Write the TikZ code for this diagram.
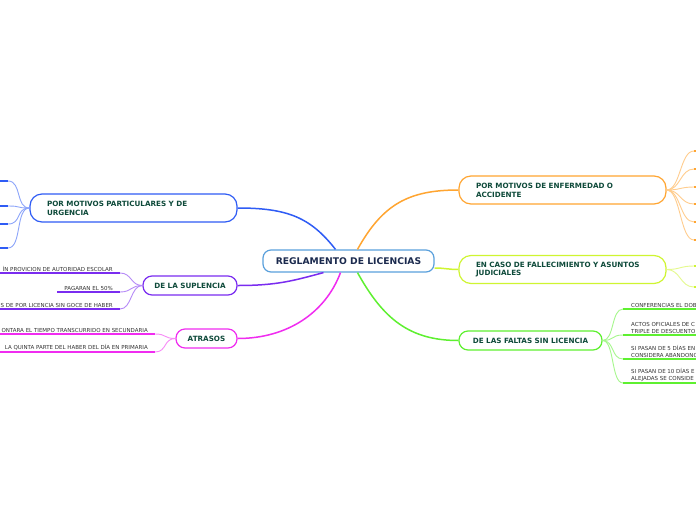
\documentclass[tikz,border=0pt]{standalone}
\usepackage{fontspec}
\setmainfont{DejaVu Sans}

\definecolor{rootline}{HTML}{5AA0DC}
\definecolor{roottext}{HTML}{1B2A4E}
\definecolor{topictext}{HTML}{0E4A3A}
\definecolor{leaftext}{HTML}{333333}
\definecolor{blueline}{HTML}{2F5CF5}
\definecolor{orangeline}{HTML}{FFA531}
\definecolor{yellowline}{HTML}{CFF531}
\definecolor{greenline}{HTML}{5EF030}
\definecolor{purpleline}{HTML}{7A2CF0}
\definecolor{magentaline}{HTML}{F02CF0}

\begin{document}
\begin{tikzpicture}[
    x=1pt, y=-1pt,
    root/.style={
        draw=rootline,
        line width=1.2pt,
        rounded corners=8pt,
        fill=white,
        minimum width=171pt,
        minimum height=22pt,
        text=roottext,
        font=\bfseries\fontsize{9.2}{11}\selectfont
    },
    topic/.style={
        draw=#1,
        line width=1.2pt,
        rounded corners=9pt,
        fill=white,
        minimum height=19pt,
        text=topictext,
        font=\bfseries\fontsize{7.2}{8.8}\selectfont
    },
    widetopic/.style={
        topic=#1,
        minimum height=28pt,
        rounded corners=12pt,
        text width=173pt,
        inner xsep=17pt,
        align=left
    },
    leaf/.style={
        inner xsep=7pt,
        inner ysep=1.5pt,
        text=leaftext,
        font=\fontsize{5.5}{7}\selectfont
    },
    uline/.style={draw=#1, line width=2pt},
    twig/.style={draw=#1!55!white, line width=0.9pt},
    branch/.style={draw=#1, line width=1.5pt}
]

\useasboundingbox (0,0) rectangle (696,520);
\clip (0,0) rectangle (696,520);
\fill[white] (0,0) rectangle (696,520);

% center
\node[root] (reg) at (348.5,261) {REGLAMENTO DE LICENCIAS};

% main topics
\node[widetopic=blueline] (pmp) at (133.5,208) {POR MOTIVOS PARTICULARES Y DE\\URGENCIA};
\node[widetopic=orangeline] (enf) at (562.5,190) {POR MOTIVOS DE ENFERMEDAD O\\ACCIDENTE};
\node[widetopic=yellowline] (fall) at (562.5,269.5) {EN CASO DE FALLECIMIENTO Y ASUNTOS\\JUDICIALES};
\node[topic=greenline, minimum width=143pt] (fal) at (530.5,340.5) {DE LAS FALTAS SIN LICENCIA};
\node[topic=purpleline, minimum width=94pt] (sup) at (190,285.5) {DE LA SUPLENCIA};
\node[topic=magentaline, minimum width=61pt] (atr) at (206.5,338.5) {ATRASOS};

% branches from the center
\draw[branch=blueline] ([xshift=-13pt]reg.north) .. controls +(-25,-32) and +(50,0) .. (pmp.east);
\draw[branch=orangeline] ([xshift=9pt]reg.north) .. controls +(25,-45) and +(-50,0) .. (enf.west);
\draw[branch=yellowline] ([yshift=-7pt]reg.east) .. controls +(10,0) and +(-10,0) .. (fall.west);
\draw[branch=greenline] ([xshift=9pt]reg.south) .. controls +(25,45) and +(-50,0) .. (fal.west);
\draw[branch=purpleline] ([xshift=-25pt]reg.south) .. controls +(-30,8) and +(40,0) .. (sup.east);
\draw[branch=magentaline] ([xshift=-8pt]reg.south) .. controls +(-15,40) and +(50,0) .. (atr.east);

% leaves cut at the left edge
\coordinate (pmp1) at (8,181);
\coordinate (pmp2) at (8,206);
\coordinate (pmp3) at (8,224);
\coordinate (pmp4) at (8,248);
\foreach \n in {pmp1,pmp2,pmp3,pmp4} {
    \draw[twig=blueline] (pmp.west) .. controls +(-14,0) and +(14,0) .. (\n);
    \draw[uline=blueline] (\n) -- ++(-10,0);
}

% leaves cut at the right edge
\coordinate (enf1) at (694,151);
\coordinate (enf2) at (694,169);
\coordinate (enf3) at (694,187);
\coordinate (enf4) at (694,204);
\coordinate (enf5) at (694,222);
\coordinate (enf6) at (694,240);
\foreach \n in {enf1,enf2,enf3,enf4,enf5,enf6} {
    \draw[twig=orangeline] (enf.east) .. controls +(14,0) and +(-14,0) .. (\n);
    \draw[uline=orangeline] (\n) -- ++(10,0);
}

\coordinate (fall1) at (694,266);
\coordinate (fall2) at (694,287);
\foreach \n in {fall1,fall2} {
    \draw[twig=yellowline] (fall.east) .. controls +(14,0) and +(-14,0) .. (\n);
    \draw[uline=yellowline] (\n) -- ++(10,0);
}

% suplencia
\node[leaf, anchor=south east, align=right] (sup1) at (120,273) {ÍN PROVICION DE AUTORIDAD ESCOLAR};
\node[leaf, anchor=south east, align=right] (sup2) at (120,292) {PAGARAN EL 50\%};
\node[leaf, anchor=south east, align=right] (sup3) at (120,309) {S DE POR LICENCIA SIN GOCE DE HABER};
\foreach \n in {sup1,sup2,sup3} {
    \draw[twig=purpleline] (sup.west) .. controls +(-12,0) and +(12,0) .. (\n.south east);
    \draw[uline=purpleline] (\n.south east) -- (\n.south west);
}

% atrasos
\node[leaf, anchor=south east, align=right] (atr1) at (155,334) {ONTARA EL TIEMPO TRANSCURRIDO EN SECUNDARIA};
\node[leaf, anchor=south east, align=right] (atr2) at (155,352) {LA QUINTA PARTE DEL HABER DEL DÍA EN PRIMARIA};
\foreach \n in {atr1,atr2} {
    \draw[twig=magentaline] (atr.west) .. controls +(-12,0) and +(12,0) .. (\n.south east);
    \draw[uline=magentaline] (\n.south east) -- (\n.south west);
}

% faltas
\node[leaf, inner xsep=8pt, anchor=south west, align=left] (fal1) at (623,309) {CONFERENCIAS EL DOB};
\node[leaf, inner xsep=8pt, anchor=south west, align=left] (fal2) at (623,335) {ACTOS OFICIALES DE C\\TRIPLE DE DESCUENTO};
\node[leaf, inner xsep=8pt, anchor=south west, align=left] (fal3) at (623,359) {SI PASAN DE 5 DÍAS EN\\CONSIDERA ABANDONO};
\node[leaf, inner xsep=8pt, anchor=south west, align=left] (fal4) at (623,383) {SI PASAN DE 10 DÍAS E\\ALEJADAS SE CONSIDE};
\foreach \n in {fal1,fal2,fal3,fal4} {
    \draw[twig=greenline] (fal.east) .. controls +(12,0) and +(-12,0) .. (\n.south west);
    \draw[uline=greenline] (\n.south west) -- (\n.south east);
}

\end{tikzpicture}
\end{document}
